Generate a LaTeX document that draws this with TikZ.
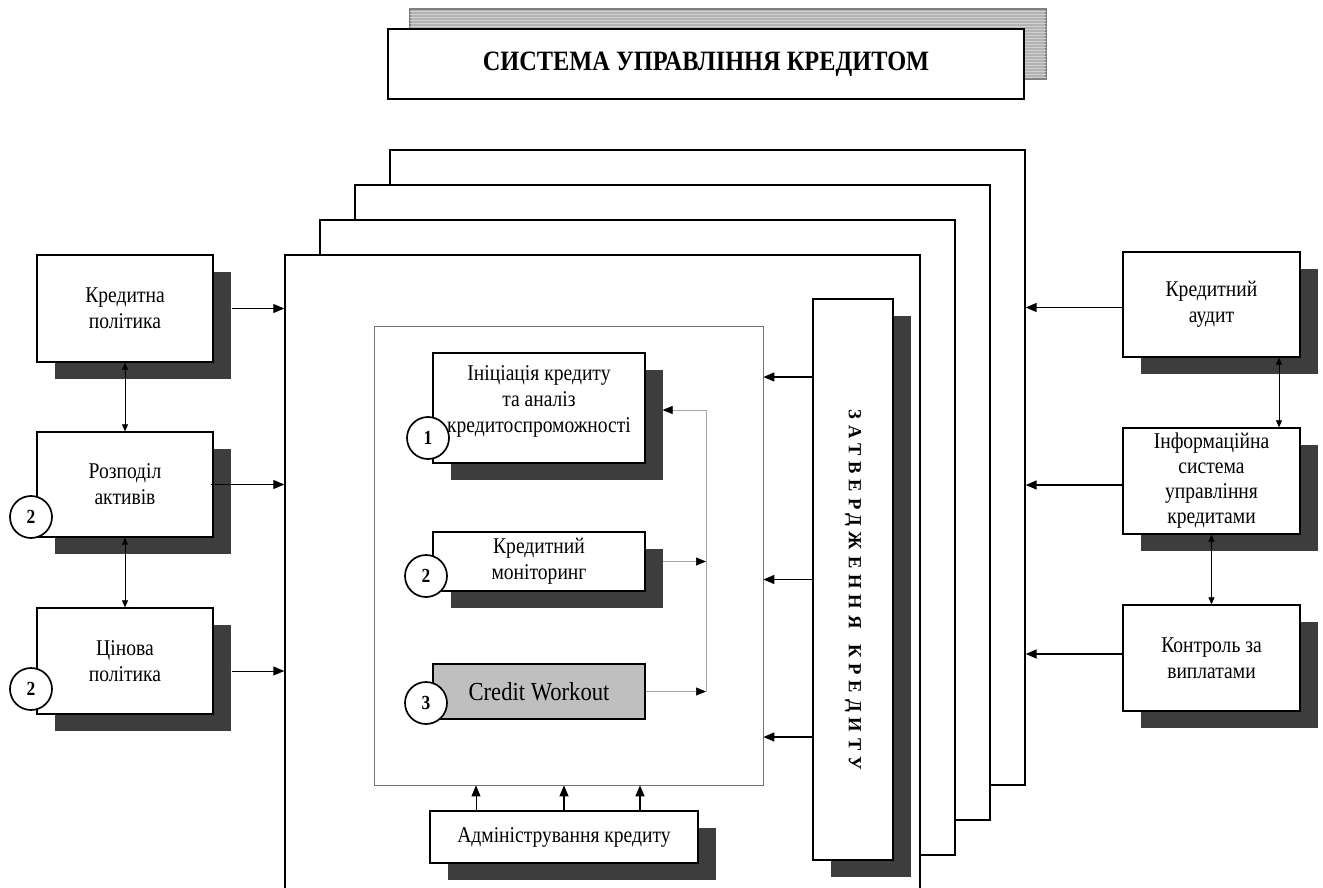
\documentclass[tikz,border=0pt]{standalone}
\usepackage{fontspec}
\setmainfont{Liberation Serif}
\newfontfamily\condfont[FakeStretch=0.87]{Liberation Serif}
\usetikzlibrary{arrows.meta,shadows,patterns}
\begin{document}
\begin{tikzpicture}[x=1pt,y=-1pt,
  txt/.style={font=\condfont\fontsize{22.5}{26}\selectfont},
  box/.style={draw,line width=1.3pt,fill=white,inner sep=0pt,align=center,txt},
  shad/.style={drop shadow={shadow xshift=18pt,shadow yshift=-17pt,opacity=1,fill=black!76,draw=none}},
  page/.style={draw,line width=1.4pt,fill=white,minimum width=635pt,minimum height=635pt,inner sep=0pt},
  circ/.style={circle,draw,line width=1.7pt,fill=white,minimum size=42pt,inner sep=0pt,font=\condfont\bfseries\fontsize{20}{20}\selectfont},
  arr/.style={line width=0.9pt,-{Triangle[length=11pt,width=9pt]}},
  arrb/.style={line width=1.5pt,-{Triangle[length=11pt,width=9pt]}},
  dbl/.style={line width=0.7pt,{Triangle[length=7pt,width=6pt]}-{Triangle[length=7pt,width=6pt]}},
  fb/.style={line width=0.7pt,draw=black!35,-{Triangle[length=10pt,width=8pt,color=black,fill=black]}}]
\useasboundingbox (0,0) rectangle (1323,888);
\clip (0,0) rectangle (1323,888);
% title
\node[draw,line width=1.3pt,fill=white,minimum width=636pt,minimum height=70pt,inner sep=0pt,
  drop shadow={shadow xshift=22pt,shadow yshift=20pt,opacity=1,fill=black!30,draw=black!50,
     postaction={pattern=horizontal lines,pattern color=black!18}},
  font=\condfont\bfseries\fontsize{28}{28}\selectfont] (title) at (706,64) {СИСТЕМА УПРАВЛІННЯ КРЕДИТОМ};
% pages
\node[page] (p4) at (707.5,467.5) {};
\node[page] (p3) at (672.5,502.5) {};
\node[page] (p2) at (637.5,537.5) {};
\node[page] (p1) at (602.5,572.5) {};
% inner box
\node[draw=black!55,line width=0.8pt,fill=white,minimum width=389pt,minimum height=459pt,inner sep=0pt] (inner) at (568.5,555.5) {};
% left boxes
\node[box,shad,minimum width=176pt,minimum height=107pt] (kp) at (125,308.5) {Кредитна\\політика};
\node[box,shad,minimum width=176pt,minimum height=105pt] (rozp) at (125,484.5) {Розподіл\\активів};
\node[box,shad,minimum width=176pt,minimum height=106pt] (cin) at (125,661) {Цінова\\політика};
\node[circ] (c2a) at (31,517) {2};
\node[circ] (c2b) at (31,689) {2};
% inner boxes
\node[box,shad,minimum width=212pt,minimum height=110pt] (ini) at (539,408) {Ініціація кредиту\\та аналіз\\кредитоспроможності\\[-8pt]};
\node[box,shad,minimum width=212pt,minimum height=59pt] (mon) at (539,561.5) {Кредитний\\моніторинг};
\node[box,fill=black!25,minimum width=212pt,minimum height=55pt,font=\condfont\fontsize{26}{26}\selectfont] (cw) at (539,691.5) {Credit Workout};
\node[circ] (c1) at (428,438) {1};
\node[circ] (c2c) at (426,576) {2};
\node[circ] (c3) at (426,703) {3};
% approval
\node[box,shad,minimum width=80pt,minimum height=561pt] (zatv) at (853,579.5) {};
\node[rotate=-90,font=\bfseries\fontsize{18.5}{19}\selectfont\addfontfeatures{LetterSpace=32}] (zatvt) at (853,590) {ЗАТВЕРДЖЕННЯ\hspace{16pt}КРЕДИТУ};
% administration
\node[box,shad,minimum width=268pt,minimum height=52pt] (adm) at (564,837) {Адміністрування кредиту};
% right boxes
\node[box,shad,minimum width=177pt,minimum height=105pt] (aud) at (1211.5,304.5) {Кредитний\\аудит};
\node[box,shad,minimum width=177pt,minimum height=106pt,font=\condfont\fontsize{22.5}{25}\selectfont] (info) at (1211.5,481) {Інформаційна\\система\\управління\\кредитами};
\node[box,shad,minimum width=177pt,minimum height=106pt] (ctrl) at (1211.5,658) {Контроль за\\виплатами};
% left connectors
\draw[dbl] (kp.south) -- (rozp.north);
\draw[dbl] (rozp.south) -- (cin.north);
\draw[arr] ([xshift=18pt]kp.east) -- (kp.east -| p1.west);
\draw[arr] ([xshift=-3pt]rozp.east) coordinate (r1) -- (r1 -| p1.west);
\draw[arr] ([shift={(18,10)}]cin.east) coordinate (cinr) -- (cinr -| p1.west);
% right connectors
\draw[dbl] ([xshift=67.5pt]aud.south) -- ([xshift=67.5pt]info.north);
\draw[dbl] (info.south) -- (ctrl.north);
\draw[arrb] ([yshift=-3pt]aud.west) coordinate (a1) -- (a1 -| p4.east);
\draw[arrb] ([yshift=-4pt]info.west) coordinate (a2) -- (a2 -| p4.east);
\draw[arrb] ([yshift=4pt]ctrl.west) coordinate (a3) -- (a3 -| p4.east);
% approval to inner
\draw[arrb] ([yshift=202.5pt]zatv.west) coordinate (z1) -- (z1 -| inner.east);
\draw[arrb] (zatv.west) -- (zatv.west -| inner.east);
\draw[arrb] ([yshift=-157.5pt]zatv.west) coordinate (z3) -- (z3 -| inner.east);
% administration to inner
\draw[arr] ([xshift=-88pt]adm.north) coordinate (d1) -- (d1 |- inner.south);
\draw[arrb] (adm.north) -- (adm.north |- inner.south);
\draw[arrb] ([xshift=76pt]adm.north) coordinate (d3) -- (d3 |- inner.south);
% feedback loop
\coordinate (fbx) at (706,0);
\draw[fb] ([xshift=17pt]mon.east) -- (mon.east -| fbx);
\draw[fb] (cw.east) -- (cw.east -| fbx);
\draw[fb] (cw.east -| fbx) |- ([xshift=17pt,yshift=-2pt]ini.east);
\end{tikzpicture}
\end{document}
